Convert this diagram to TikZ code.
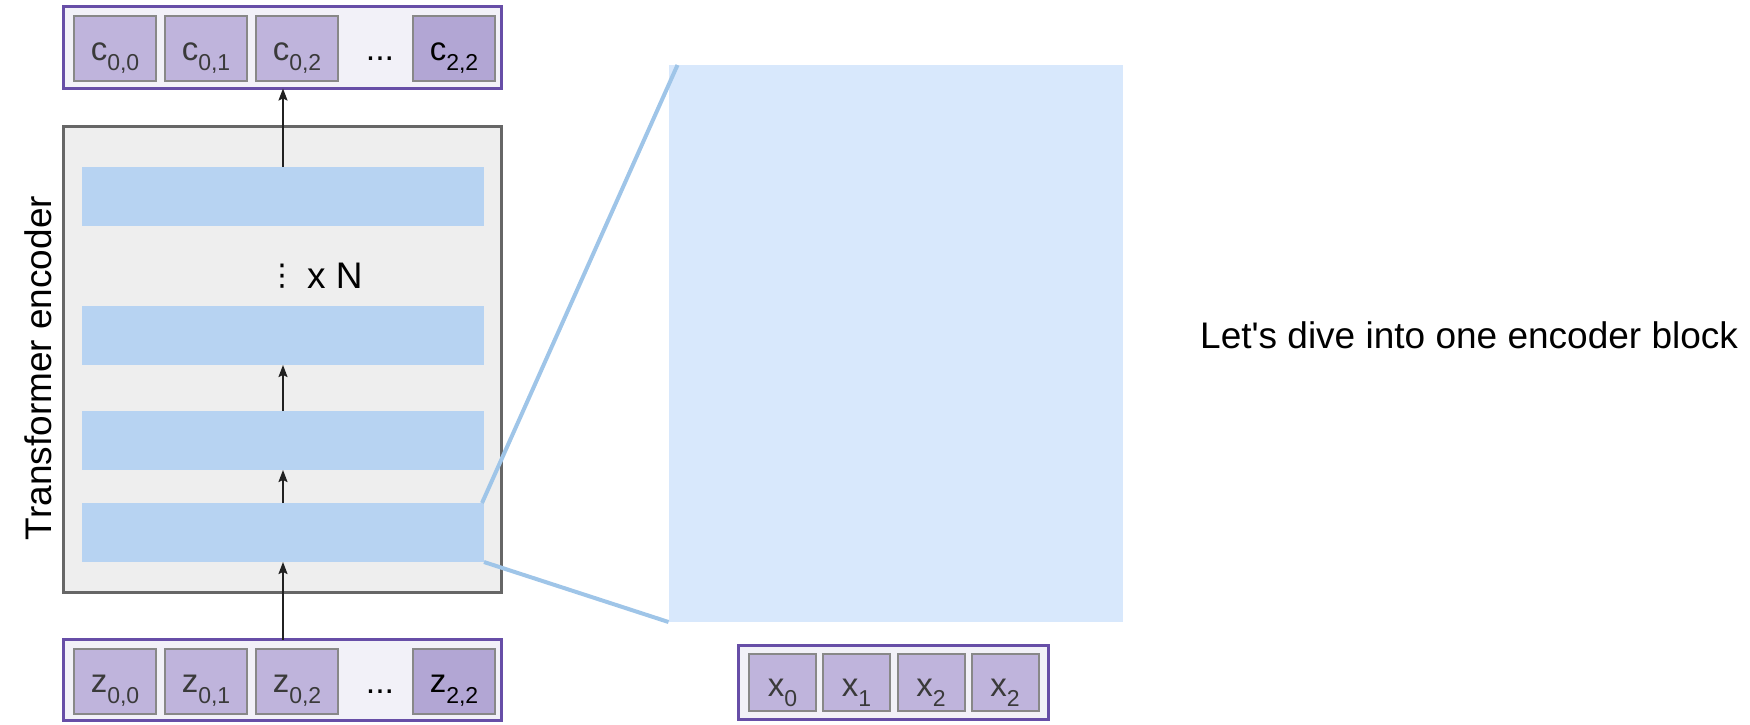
\documentclass[tikz,border=0pt]{standalone}
\usepackage{fontspec}
\newfontfamily\lsans{Liberation Sans}
\newfontfamily\dvsans{DejaVu Sans}
\usetikzlibrary{arrows.meta}
\definecolor{purpB}{HTML}{674EA7}
\definecolor{seqFill}{HTML}{F2F1F8}
\definecolor{cellFill}{HTML}{BFB4DC}
\definecolor{cellDark}{HTML}{B2A6D4}
\definecolor{cellGray}{HTML}{888888}
\definecolor{labGray}{HTML}{3A3A3A}
\definecolor{encFill}{HTML}{EEEEEE}
\definecolor{encLine}{HTML}{666666}
\definecolor{blockFill}{HTML}{B7D3F2}
\definecolor{bigFill}{HTML}{D8E8FC}
\definecolor{zoomLine}{HTML}{9FC5E8}
\newcommand{\celllab}[2]{{\fontsize{33}{35}\selectfont #1\raisebox{-10.5pt}{\fontsize{23}{25}\selectfont #2}}}
\begin{document}
\begin{tikzpicture}[x=1pt,y=-1pt,
  font=\lsans,
  seqbox/.style={draw=purpB, line width=3pt, fill=seqFill, minimum width=438pt, inner sep=0pt, outer sep=0pt},
  cellbox/.style={draw=cellGray, line width=2pt, fill=cellFill, minimum width=82pt, minimum height=65pt, inner sep=0pt, outer sep=0pt, text height=23pt, text depth=0pt, text=labGray},
  darkcell/.style={cellbox, fill=cellDark, text=black},
  xcell/.style={cellbox, minimum width=67pt, minimum height=57pt, text height=27pt},
  encbox/.style={draw=encLine, line width=3pt, fill=encFill, minimum width=438pt, minimum height=466pt, inner sep=0pt, outer sep=0pt},
  blockbox/.style={fill=blockFill, minimum width=402pt, minimum height=59pt, inner sep=0pt, outer sep=0pt},
  bigrect/.style={fill=bigFill, minimum width=454pt, minimum height=557pt, inner sep=0pt, outer sep=0pt},
  bigtxt/.style={font=\lsans\fontsize{37}{40}\selectfont, inner sep=0pt, text=black},
  dotstxt/.style={font=\lsans\fontsize{34}{36}\selectfont, inner sep=0pt, text=black, anchor=base},
  arr/.style={draw=black!87, line width=1.8pt, -{Stealth[length=12pt,width=9pt,inset=2pt]}},
  zline/.style={draw=zoomLine, line width=4pt}
]
\useasboundingbox (0,0) rectangle (1750,724);
% zoomed area
\node[bigrect] (big) at (895.5,343.5) {};
% encoder
\node[encbox] (enc) at (282.5,359.5) {};
\node[blockbox] (b1) at (283,196.5) {};
\node[blockbox] (b2) at (283,335.5) {};
\node[blockbox] (b3) at (283,440.5) {};
\node[blockbox] (b4) at (283,532.5) {};
\node[bigtxt, rotate=90] (tlab) at (38,368) {Transformer encoder};
\node[bigtxt, font=\dvsans\fontsize{30}{34}\selectfont] (vd) at (282,276) {⋮};
\node[bigtxt, anchor=base west] (xn) at (307,288) {x N};
% output sequence
\node[seqbox, minimum height=82pt] (cbox) at (282.5,47.5) {};
\node[cellbox] (c00) at (115,48.5) {\celllab{c}{0,0}};
\node[cellbox] (c01) at (206,48.5) {\celllab{c}{0,1}};
\node[cellbox] (c02) at (297,48.5) {\celllab{c}{0,2}};
\node[dotstxt] (cdots) at (380,60) {...};
\node[darkcell] (c22) at (454,48.5) {\celllab{c}{2,2}};
% input sequence
\node[seqbox, minimum height=81pt] (zbox) at (282.5,680) {};
\node[cellbox] (z00) at (115,681) {\celllab{z}{0,0}};
\node[cellbox] (z01) at (206,681) {\celllab{z}{0,1}};
\node[cellbox] (z02) at (297,681) {\celllab{z}{0,2}};
\node[dotstxt] (zdots) at (380,693) {...};
\node[darkcell] (z22) at (454,681) {\celllab{z}{2,2}};
% x sequence
\node[seqbox, minimum width=310pt, minimum height=74pt] (xbox) at (893.5,682.5) {};
\node[xcell] (x0) at (782.5,682.5) {\celllab{x}{0}};
\node[xcell] (x1) at (856.5,682.5) {\celllab{x}{1}};
\node[xcell] (x2) at (931,682.5) {\celllab{x}{2}};
\node[xcell] (x3) at (1005,682.5) {\celllab{x}{2}};
% arrows
\draw[arr] (zbox.north -| b4.south) -- (b4.south);
\draw[arr] (b4.north) -- (b3.south);
\draw[arr] (b3.north) -- (b2.south);
\draw[arr] (b1.north) -- (b1.north |- cbox.south);
% zoom lines
\coordinate (ztop) at ([xshift=9pt]big.north west);
\draw[zline] ([xshift=-2pt]b4.north east) -- (ztop);
\draw[zline] (b4.south east) -- (big.south west);
% caption
\node[bigtxt, anchor=base west] (dive) at (1200,348) {Let's dive into one encoder block};
\end{tikzpicture}
\end{document}
